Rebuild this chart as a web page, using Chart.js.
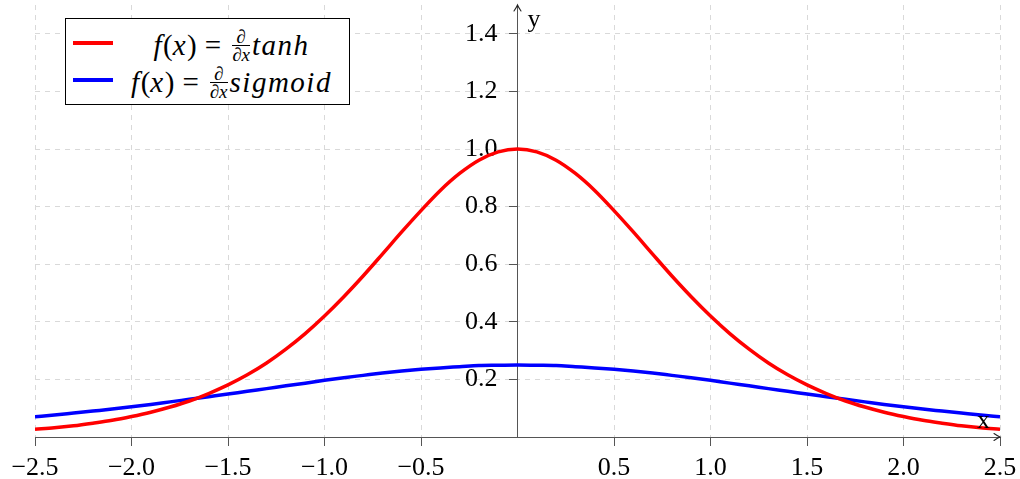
<!DOCTYPE html>
<html><head><meta charset="utf-8">
<script src="https://cdn.jsdelivr.net/npm/chart.js@4"></script>
<style>
html,body{margin:0;padding:0;background:#fff}
#wrap{position:relative;width:1020px;height:479px}
#c{position:absolute;left:0;top:0}
#legend{position:absolute;left:65px;top:18px;width:283px;height:85px;border:1px solid #000;background:#fff;font-family:'Liberation Serif',serif;color:#000}
.sw{position:absolute;left:7px;width:40px;height:4px}
.row{position:absolute;left:48px;width:235px;text-align:center;font-size:29px;white-space:nowrap;line-height:30px}
.row i{font-style:italic;letter-spacing:1.5px}
.eq{margin:0 8px}
.frac{display:inline-block;vertical-align:middle;text-align:center;font-size:19px;line-height:17px;margin:0 2px 0 3px;position:relative;top:-3px}
.frac .n{display:block;border-bottom:1px solid #000;padding:0 1px}
.frac .d{display:block}
.frac i{letter-spacing:0}
</style></head>
<body>
<div id="wrap">
<canvas id="c" width="1020" height="479"></canvas>
<div id="legend">
  <div class="sw" style="top:22px;background:#ff0000"></div>
  <div class="row" style="top:11px"><i>f</i>(<i>x</i>)<span class="eq">=</span><span class="frac"><span class="n"><i>∂</i></span><span class="d"><i>∂x</i></span></span><i>tanh</i></div>
  <div class="sw" style="top:59px;background:#0000ff"></div>
  <div class="row" style="top:48px"><i>f</i>(<i>x</i>)<span class="eq">=</span><span class="frac"><span class="n"><i>∂</i></span><span class="d"><i>∂x</i></span></span><i>sigmoid</i></div>
</div>
</div>
<script>
const xValues = [-2.5,-2.4,-2.3,-2.2,-2.1,-2.0,-1.9,-1.8,-1.7,-1.6,-1.5,-1.4,-1.3,-1.2,-1.1,-1.0,-0.9,-0.8,-0.7,-0.6,-0.5,-0.4,-0.3,-0.2,-0.1,0.0,0.1,0.2,0.3,0.4,0.5,0.6,0.7,0.8,0.9,1.0,1.1,1.2,1.3,1.4,1.5,1.6,1.7,1.8,1.9,2.0,2.1,2.2,2.3,2.4,2.5];
const tanhDerivative = [0.027,0.032,0.039,0.048,0.058,0.071,0.086,0.104,0.125,0.151,0.181,0.216,0.257,0.305,0.359,0.420,0.487,0.559,0.635,0.712,0.786,0.856,0.915,0.961,0.990,1.000,0.990,0.961,0.915,0.856,0.786,0.712,0.635,0.559,0.487,0.420,0.359,0.305,0.257,0.216,0.181,0.151,0.125,0.104,0.086,0.071,0.058,0.048,0.039,0.032,0.027];
const sigmoidDerivative = [0.070,0.076,0.083,0.090,0.097,0.105,0.113,0.122,0.131,0.140,0.149,0.159,0.168,0.178,0.187,0.197,0.206,0.214,0.222,0.229,0.235,0.240,0.244,0.248,0.249,0.250,0.249,0.248,0.244,0.240,0.235,0.229,0.222,0.214,0.206,0.197,0.187,0.178,0.168,0.159,0.149,0.140,0.131,0.122,0.113,0.105,0.097,0.090,0.083,0.076,0.070];
const xTicks = [-2.5,-2.0,-1.5,-1.0,-0.5,0.5,1.0,1.5,2.0,2.5];
const xTickLabels = ['−2.5','−2.0','−1.5','−1.0','−0.5','0.5','1.0','1.5','2.0','2.5'];
const yTicks = [0.2,0.4,0.6,0.8,1.0,1.2,1.4];
const yTickLabels = ['0.2','0.4','0.6','0.8','1.0','1.2','1.4'];
const seriesNames = ['f(x) = ∂/∂x tanh','f(x) = ∂/∂x sigmoid'];

const AXIS_COLOR = '#555555';
const GRID_COLOR = '#d9d9d9';
const tickFont = {family:"'Liberation Serif', serif", size:26};
const Y_LABEL_GAP = 20;

const axisDecor = {
  id:'axisDecor',
  beforeDraw(chart){
    // push y tick labels away from the centred y axis (Chart.js ignores padding for object-positioned axes)
    const ys = chart.scales.y;
    const items = ys.getLabelItems(chart.chartArea);
    if (!items._shifted) {
      items.forEach(it => { it.options.translation[0] -= Y_LABEL_GAP; });
      items._shifted = true;
    }
  },
  afterDatasetsDraw(chart){
    const {ctx, scales:{x, y}} = chart;
    const x0 = x.getPixelForValue(0), y0 = y.getPixelForValue(0);
    const xEnd = x.getPixelForValue(x.max), yTop = y.getPixelForValue(y.max);
    ctx.save();
    ctx.strokeStyle = '#222'; ctx.lineWidth = 1.1; ctx.lineCap='round';
    ctx.beginPath();
    ctx.moveTo(xEnd-6, y0-3.5); ctx.quadraticCurveTo(xEnd-2, y0-0.8, xEnd, y0);
    ctx.quadraticCurveTo(xEnd-2, y0+0.8, xEnd-6, y0+3.5);
    ctx.stroke();
    ctx.beginPath();
    ctx.moveTo(x0-3.5, yTop+6); ctx.quadraticCurveTo(x0-0.8, yTop+2, x0, yTop);
    ctx.quadraticCurveTo(x0+0.8, yTop+2, x0+3.5, yTop+6);
    ctx.stroke();
    ctx.fillStyle = '#000';
    ctx.font = "26px 'Liberation Serif', serif";
    ctx.textBaseline = 'alphabetic'; ctx.textAlign = 'left';
    ctx.fillText('y', x0+10, yTop+22);
    ctx.fillText('x', xEnd-23, y0-9);
    ctx.restore();
  }
};

const zeroPad = s => { s.paddingTop = 0; s.paddingBottom = 0; s.paddingLeft = 0; s.paddingRight = 0; };

new Chart(document.getElementById('c'), {
  type:'line',
  data:{
    datasets:[
      {label:seriesNames[0], data:xValues.map((v,i)=>({x:v, y:tanhDerivative[i]})), borderColor:'#ff0000', borderWidth:3.5, pointRadius:0, cubicInterpolationMode:'monotone', fill:false},
      {label:seriesNames[1], data:xValues.map((v,i)=>({x:v, y:sigmoidDerivative[i]})), borderColor:'#0000ff', borderWidth:3.5, pointRadius:0, cubicInterpolationMode:'monotone', fill:false}
    ]
  },
  options:{
    responsive:false, animation:false, events:[],
    layout:{padding:{left:35, right:20, top:5, bottom:42}},
    plugins:{legend:{display:false}, tooltip:{enabled:false}},
    scales:{
      x:{
        type:'linear', min:-2.5, max:2.5, position:{y:0},
        afterBuildTicks: s => { s.ticks = xTicks.map(v => ({value:v})); },
        afterFit: zeroPad,
        ticks:{font:tickFont, color:'#000', padding:8, maxRotation:0, autoSkip:false, callback:(v,i)=>xTickLabels[i]},
        grid:{color:GRID_COLOR, lineWidth:1, tickLength:8, tickColor:AXIS_COLOR, tickWidth:1},
        border:{display:true, color:AXIS_COLOR, width:1, dash:[5,5]}
      },
      y:{
        type:'linear', min:0, max:1.5, position:{x:0},
        afterBuildTicks: s => { s.ticks = yTicks.map(v => ({value:v})); },
        afterFit: zeroPad,
        ticks:{font:tickFont, color:'#000', padding:12, autoSkip:false, callback:(v,i)=>yTickLabels[i]},
        grid:{color:GRID_COLOR, lineWidth:1, tickLength:8, tickColor:AXIS_COLOR, tickWidth:1},
        border:{display:true, color:AXIS_COLOR, width:1, dash:[5,5]}
      }
    }
  },
  plugins:[axisDecor]
});
</script>
</body></html>
